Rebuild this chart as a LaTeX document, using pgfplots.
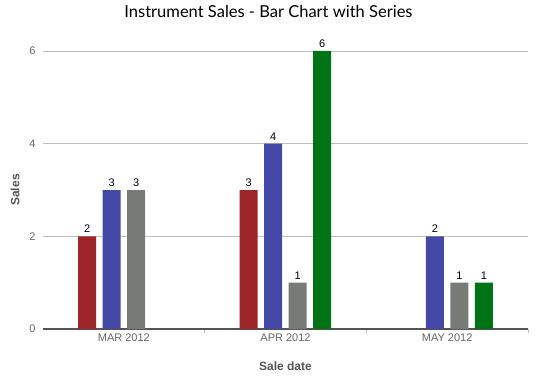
\documentclass[border=0pt]{standalone}
\usepackage{pgfplots}
\pgfplotsset{compat=1.18}
\usepackage{fontspec}
\setmainfont{Liberation Sans}
\newfontfamily\titlefont{Lato}
\definecolor{cred}{HTML}{9E2628}
\definecolor{cblue}{HTML}{4448A6}
\definecolor{cgray}{HTML}{777B75}
\definecolor{cgreen}{HTML}{007317}
\definecolor{labgray}{HTML}{555555}
\definecolor{tickgray}{HTML}{666666}
\begin{document}
\begin{tikzpicture}
\begin{axis}[
  /pgf/number format/assume math mode=true,
  scale only axis, width=485pt, height=278pt,
  xmin=-0.5, xmax=2.5, ymin=0, ymax=6,
  ybar, bar width=18pt,
  axis x line*=bottom, axis y line*=left,
  y axis line style={draw=none},
  x axis line style={draw=labgray, line width=1.1pt},
  ytick={0,2,4,6}, ymajorgrids, grid style={draw=black!25, line width=0.8pt},
  xtick={0,1,2}, xticklabels={MAR 2012,APR 2012,MAY 2012},
  minor xtick={0.5,1.5,2.5},
  major tick length=0pt, minor tick length=4pt,
  tick align=outside,
  minor tick style={draw=black!25, line width=0.8pt},
  ticklabel style={font=\fontsize{11}{13}\selectfont, color=tickgray},
  yticklabel style={xshift=-4pt},
  xticklabel style={yshift=-1pt},
  xlabel={Sale date}, ylabel={Sales},
  label style={font=\bfseries\fontsize{12}{14}\selectfont, color=labgray},
  xlabel style={at={(axis description cs:0.5,0)}, anchor=center, yshift=-37pt},
  ylabel style={at={(axis description cs:0,0.5)}, anchor=center, yshift=28pt},
  title={Instrument Sales - Bar Chart with Series},
  title style={font=\titlefont\fontsize{16.5}{19}\selectfont, at={(axis description cs:0.5,1)}, anchor=center, xshift=-17pt, yshift=34pt},
  nodes near coords,
  every node near coord/.append style={font=\fontsize{11}{13}\selectfont, color=black},
  clip=false,
]
\addplot[fill=cred, draw=none, bar shift=-36.75pt] coordinates {(0,2) (1,3)};
\addplot[fill=cblue, draw=none, bar shift=-12.25pt] coordinates {(0,3) (1,4) (2,2)};
\addplot[fill=cgray, draw=none, bar shift=12.25pt] coordinates {(0,3) (1,1) (2,1)};
\addplot[fill=cgreen, draw=none, bar shift=36.75pt] coordinates {(1,6) (2,1)};
\end{axis}
\pgfresetboundingbox
\path (-43pt,-49pt) rectangle (496pt,329pt);
\end{tikzpicture}
\end{document}
